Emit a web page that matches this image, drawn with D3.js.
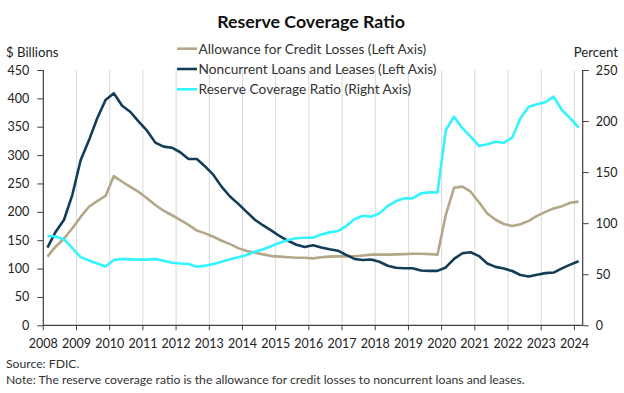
<!DOCTYPE html>
<html>
<head>
<meta charset="utf-8">
<script src="https://cdn.jsdelivr.net/npm/d3@7"></script>
<style>
  html, body { margin: 0; padding: 0; background: #fff; }
  svg { display: block; font-family: Lato, "Open Sans", sans-serif; }
</style>
</head>
<body>
<svg id="chart" width="624" height="393"></svg>
<script>
// ---- Data (quarterly, 2008Q1 .. 2024Q1) ----
const years = d3.range(2008, 2025);
const quarters = [];
years.forEach(y => { [1,2,3,4].forEach(q => { if (y < 2024 || q === 1) quarters.push(y + "Q" + q); }); });

const allowance = [
  121, 139, 153, 171,
  191, 209, 219, 228,
  263, 253, 244, 235,
  224, 212, 202, 194,
  186, 177, 167, 162,
  156, 149, 143, 136,
  131, 128, 125, 122,
  121, 120, 119, 119,
  118, 120, 121, 121.5,
  122, 121.5, 123, 124.5,
  124.5, 124.5, 125, 125.5,
  126, 126, 125.5, 124.5,
  194.5, 242.5, 244.5, 235.5,
  217, 197, 186, 178.5,
  175, 178, 184, 193,
  200, 206, 210, 216,
  218
];

const noncurrent = [
  137, 165, 186, 230,
  291, 326, 365, 397,
  409, 387, 376, 359,
  343, 322, 315, 313,
  305, 293, 293, 280,
  265, 244, 227, 214,
  200, 186, 176, 167,
  157, 149, 142, 138,
  141, 137, 134, 131.5,
  124, 117, 115, 116,
  112, 105, 101.5, 100.5,
  100.5, 96.5, 96, 96,
  102, 117, 127, 128.7,
  122, 109, 103, 100,
  95.7, 88.7, 86, 89,
  92, 93, 100.4, 107,
  113
];

const coverage = [
  87.4, 87, 84.3, 75.5,
  66.8, 63.5, 60.5, 57.5,
  64, 65, 64.6, 64.3,
  64.3, 65, 63.3, 61.3,
  60.5, 60, 57.4, 58.4,
  60, 62.3, 64.6, 66.6,
  68.8, 72, 74.4, 77.6,
  80.9, 83.5, 85.2, 85.8,
  85.8, 89, 91, 92.3,
  97.2, 103.8, 107.3, 106.3,
  109.6, 116.8, 121.7, 124.3,
  124.3, 129.2, 130.2, 130,
  191, 204.3, 193, 184.7,
  175.6, 177.2, 179.8, 178.8,
  183.7, 202.7, 214, 216.4,
  218.4, 223.9, 210.8, 202.7,
  193.5
];

const leftTicks = d3.range(0, 451, 50);
const rightTicks = d3.range(0, 251, 50);
const seriesNames = [
  "Allowance for Credit Losses (Left Axis)",
  "Noncurrent Loans and Leases (Left Axis)",
  "Reserve Coverage Ratio (Right Axis)"
];
const colors = ["#b3a788", "#123d58", "#33f3ff"];

// ---- Layout ----
const svg = d3.select("#chart");
const L = 43.3, R = 582.7, T = 70, B = 325.3;

const x = d3.scaleBand().domain(quarters).range([L, R]).paddingInner(0).paddingOuter(0);
const yL = d3.scaleLinear().domain([0, 450]).range([B, T]);
const yR = d3.scaleLinear().domain([0, 250]).range([B, T]);
const cx = q => x(q) + x.bandwidth() / 2;

// gridlines at each year
const yearQs = years.map(y => y + "Q1");
svg.append("g").selectAll("line").data(yearQs.slice(1)).join("line")
  .attr("x1", d => x(d)).attr("x2", d => x(d))
  .attr("y1", T).attr("y2", B)
  .attr("stroke", "#d9d9d9").attr("stroke-width", 1);

// axes
const axisColor = "#404040";
const gL = svg.append("g").attr("transform", `translate(${L},0)`)
  .call(d3.axisLeft(yL).tickValues(leftTicks).tickSize(6).tickPadding(8));
const gR = svg.append("g").attr("transform", `translate(${R},0)`)
  .call(d3.axisRight(yR).tickValues(rightTicks).tickSize(6).tickPadding(7));
const gB = svg.append("g").attr("transform", `translate(0,${B})`)
  .call(d3.axisBottom(x).tickValues(yearQs).tickFormat(d => d.slice(0, 4)).tickSize(5).tickPadding(9));
gB.selectAll(".tick").attr("transform", d => `translate(${x(d)},0)`);
[gL, gR, gB].forEach(g => {
  g.select(".domain").attr("stroke", axisColor).attr("stroke-width", 1.2);
  g.selectAll(".tick line").attr("stroke", axisColor);
  g.selectAll(".tick text").attr("fill", "#222").style("font-size", "12.5px").style("font-family", "Lato, sans-serif");
});
gB.select(".domain").attr("d", `M${L},0H${R}`);
gL.select(".domain").attr("d", `M0,${B}V${T}`);
gR.select(".domain").attr("d", `M0,${B}V${T}`);

// lines
const lineL = d3.line().x((d, i) => cx(quarters[i])).y(d => yL(d));
const lineR = d3.line().x((d, i) => cx(quarters[i])).y(d => yR(d));
svg.append("path").datum(allowance).attr("d", lineL)
  .attr("fill", "none").attr("stroke", colors[0]).attr("stroke-width", 2.6).attr("stroke-linejoin", "round");
svg.append("path").datum(noncurrent).attr("d", lineL)
  .attr("fill", "none").attr("stroke", colors[1]).attr("stroke-width", 2.6).attr("stroke-linejoin", "round");
svg.append("path").datum(coverage).attr("d", lineR)
  .attr("fill", "none").attr("stroke", colors[2]).attr("stroke-width", 2.6).attr("stroke-linejoin", "round");

// title
svg.append("text").attr("x", 311).attr("y", 27.5).attr("text-anchor", "middle")
  .style("font-size", "17.8px").style("font-weight", "bold").attr("fill", "#111")
  .text("Reserve Coverage Ratio");

// axis titles
svg.append("text").attr("x", 6).attr("y", 57).style("font-size", "13.2px").attr("fill", "#222").text("$ Billions");
svg.append("text").attr("x", 618).attr("y", 57).attr("text-anchor", "end").style("font-size", "13.2px").attr("fill", "#222").text("Percent");

// legend
const leg = svg.append("g");
const legY = [48.7, 69, 89.3];
seriesNames.forEach((n, i) => {
  leg.append("line").attr("x1", 177).attr("x2", 197).attr("y1", legY[i]).attr("y2", legY[i])
    .attr("stroke", colors[i]).attr("stroke-width", 2.6);
  leg.append("text").attr("x", 198.5).attr("y", legY[i] + 4.8)
    .style("font-size", "13.7px").attr("fill", "#333").text(n);
});

// notes
svg.append("text").attr("x", 6).attr("y", 367.5).style("font-size", "12.2px").attr("fill", "#333").text("Source: FDIC.");
svg.append("text").attr("x", 6).attr("y", 383.5).style("font-size", "12.2px").attr("fill", "#333")
  .text("Note: The reserve coverage ratio is the allowance for credit losses to noncurrent loans and leases.");
</script>
</body>
</html>
